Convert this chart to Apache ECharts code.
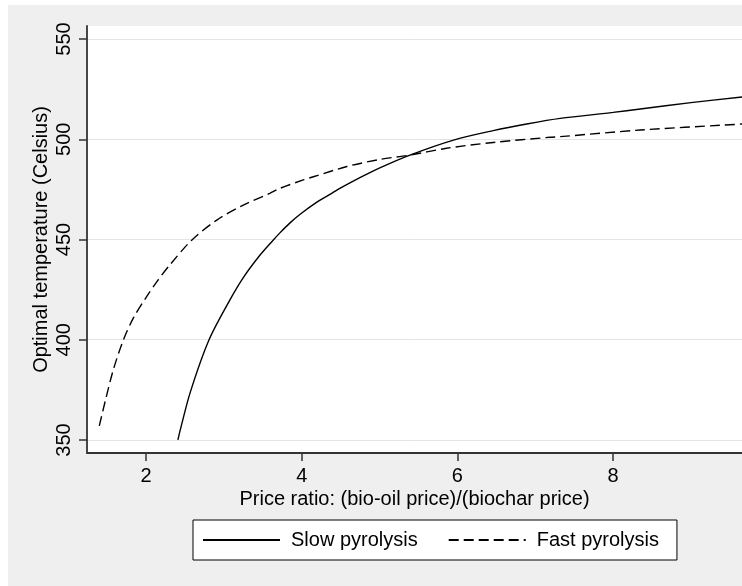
<!DOCTYPE html>
<html>
<head>
<meta charset="utf-8">
<script src="https://cdn.jsdelivr.net/npm/echarts@6/dist/echarts.min.js"></script>
<style>
  html, body { margin: 0; padding: 0; background: #ffffff; }
  #chart { position: absolute; left: 8px; top: 5px; width: 734px; height: 581px; background: #efefef; }
</style>
</head>
<body>
<div id="chart"></div>
<script>
// ---- data ----
const slowX = [2.41, 2.44, 2.57, 2.81, 3.08, 3.25, 3.45, 3.63, 3.72, 3.85, 3.98, 4.19, 4.32, 4.49, 4.62, 5.01, 5.39, 5.95, 6.46, 6.89, 7.32, 8.0, 8.35, 9.0, 9.66];
const slowY = [350, 355, 374, 400, 420, 431, 441.5, 449.5, 453.3, 458.3, 462.6, 468.5, 471.5, 475.5, 478.3, 485.8, 492.1, 499.6, 504.3, 507.6, 510.4, 513.4, 515.1, 518.3, 521.1];
const fastX = [1.40, 1.48, 1.58, 1.71, 1.84, 2.0, 2.14, 2.31, 2.59, 2.91, 3.25, 3.59, 3.72, 4.02, 4.15, 4.58, 5.01, 5.39, 5.86, 6.46, 7.19, 7.32, 8.35, 9.66];
const fastY = [357, 370, 385, 400, 411, 421, 429, 437.5, 449.8, 459.7, 467.2, 473, 475.5, 479.7, 481.3, 486.4, 490, 492.1, 495.5, 498.4, 501, 501.3, 504.6, 507.6];
const xTicks = [2, 4, 6, 8];
const yTicks = [350, 400, 450, 500, 550];
const seriesNames = ['Slow pyrolysis', 'Fast pyrolysis'];
const xTitle = 'Price ratio: (bio-oil price)/(biochar price)';
const yTitle = 'Optimal temperature (Celsius)';

const pairs = (xs, ys) => xs.map((x, i) => [x, ys[i]]);
const FONT = '"Liberation Sans", Arial, sans-serif';
const AX = '#333333';

const chart = echarts.init(document.getElementById('chart'), null, { renderer: 'canvas' });
chart.setOption({
  animation: false,
  backgroundColor: 'transparent',
  textStyle: { fontFamily: FONT },
  grid: {
    left: 79, right: 0, top: 21, bottom: 133,
    show: true, backgroundColor: '#ffffff', borderWidth: 0
  },
  xAxis: {
    type: 'value', min: 1.242, max: 9.656,
    name: xTitle, nameLocation: 'middle', nameGap: 36, nameMoveOverlap: false,
    nameTextStyle: { fontSize: 20, color: '#000', fontFamily: FONT },
    axisLine: { show: true, onZero: false, lineStyle: { color: AX, width: 1.8 } },
    axisTick: { show: true, length: 8, customValues: xTicks, lineStyle: { color: AX, width: 1.5 } },
    axisLabel: { customValues: xTicks, fontSize: 20, color: '#000', margin: 13, fontFamily: FONT },
    splitLine: { show: false }
  },
  yAxis: {
    type: 'value', min: 343.5, max: 556.5,
    name: yTitle, nameLocation: 'middle', nameGap: 36, nameRotate: 90, nameMoveOverlap: false,
    nameTextStyle: { fontSize: 20, color: '#000', fontFamily: FONT },
    axisLine: { show: true, onZero: false, lineStyle: { color: AX, width: 1.8 } },
    axisTick: { show: true, length: 8, customValues: yTicks, lineStyle: { color: AX, width: 1.5 } },
    axisLabel: { customValues: yTicks, rotate: 90, fontSize: 20, color: '#000', margin: 13, fontFamily: FONT },
    splitLine: { show: true, lineStyle: { color: '#e4e4e4', width: 1 } }
  },
  legend: {
    left: 185, top: 515,
    orient: 'horizontal',
    backgroundColor: '#ffffff', borderColor: '#000', borderWidth: 1, borderRadius: 0,
    padding: [10, 18, 10, 9],
    itemWidth: 77, itemHeight: 14, itemGap: 30,
    itemStyle: { color: 'transparent', borderWidth: 0, opacity: 0 },
    textStyle: { fontSize: 20, color: '#000', fontFamily: FONT, padding: [0, 0, 0, 6] },
    data: seriesNames
  },
  series: [
    {
      name: seriesNames[0], type: 'line', data: pairs(slowX, slowY),
      smooth: 0.3, symbol: 'none', showSymbol: false,
      lineStyle: { color: '#000', width: 1.4, type: 'solid' },
      itemStyle: { color: '#000' }, z: 3
    },
    {
      name: seriesNames[1], type: 'line', data: pairs(fastX, fastY),
      smooth: 0.3, symbol: 'none', showSymbol: false,
      lineStyle: { color: '#000', width: 1.4, type: [10, 5] },
      itemStyle: { color: '#000' }, z: 3
    }
  ]
});
</script>
</body>
</html>
